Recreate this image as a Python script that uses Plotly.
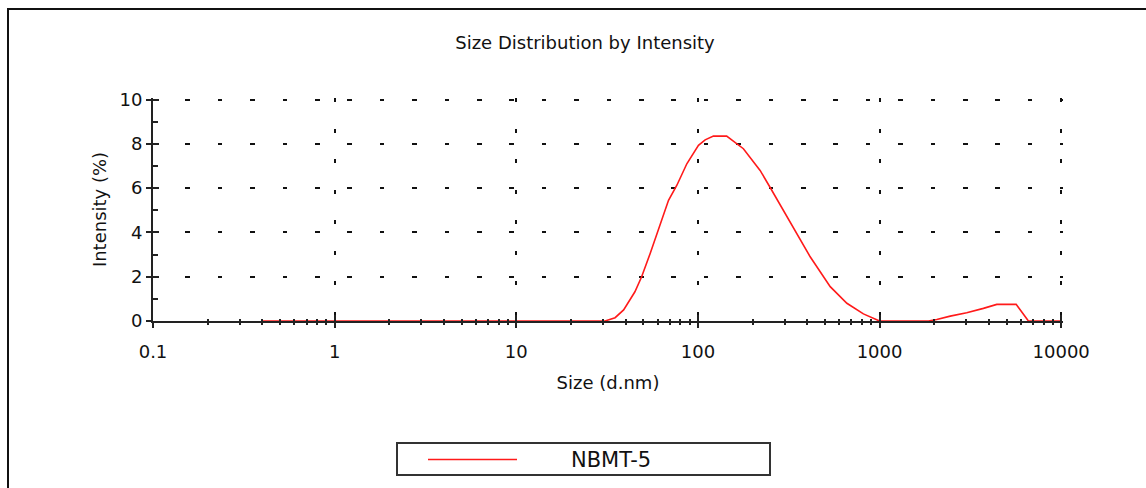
import plotly.graph_objects as go

# ---- data ----
size_nm = [0.4, 1, 10, 30.8, 35, 39, 45, 49, 54.6, 62, 68.9, 76.6, 86.9, 100.7, 109.6,
           121.7, 144, 178, 220, 249, 295, 350, 415, 535, 661, 815, 966, 1000,
           1860, 2065, 2450, 3020, 3730, 4420, 5650, 6600, 10000]
intensity = [0, 0, 0, 0, 0.15, 0.5, 1.32, 2.0, 3.05, 4.4, 5.45, 6.13, 7.1, 7.93, 8.18,
             8.35, 8.35, 7.78, 6.8, 6.05, 5.0, 3.95, 2.9, 1.55, 0.80, 0.32, 0.08, 0,
             0, 0.07, 0.22, 0.37, 0.57, 0.75, 0.75, 0, 0]
series_name = "NBMT-5"
x_tick_vals = [0.1, 1, 10, 100, 1000, 10000]
x_tick_text = ["0.1", "1", "10", "100", "1000", "10000"]
y_tick_vals = [0, 2, 4, 6, 8, 10]
y_tick_text = ["0", "2", "4", "6", "8", "10"]

FONT = "DejaVu Sans"
LINE_RED = "#ff1a1a"
minor_x = [m * 10 ** e for e in range(-1, 4) for m in range(2, 10)]
minor_y = [1, 3, 5, 7, 9]

# plot-area geometry (pixels)
L, T, R, B = 153, 98, 83, 167
W = 1146 - L - R
H = 488 - T - B


def px(xp):
    return (xp - L) / W


def py(yp):
    return (488 - B - yp) / H


fig = go.Figure()
fig.add_trace(go.Scatter(x=size_nm, y=intensity, mode="lines", name=series_name,
                         showlegend=False, line=dict(color=LINE_RED, width=1.6)))
# empty helper trace so the overlay axes carrying the inner half of the crossing ticks are drawn
fig.add_trace(go.Scatter(x=[], y=[], xaxis="x2", yaxis="y2", showlegend=False, hoverinfo="skip"))

xr = [-1, 4.01]
yr = [0, 10.07]
axis_font = dict(family=FONT, size=18, color="#111")

fig.update_layout(
    width=1146, height=488,
    margin=dict(l=L, r=R, t=T, b=B, autoexpand=False),
    paper_bgcolor="white", plot_bgcolor="white",
    title=dict(text="Size Distribution by Intensity", x=585 / 1146, xref="container", xanchor="center",
               y=1 - 43 / 488, yref="container", yanchor="middle",
               font=dict(family=FONT, size=18, color="#111")),
    xaxis=dict(type="log", range=xr, tickmode="array", tickvals=x_tick_vals, ticktext=x_tick_text,
               showline=True, linecolor="#222", linewidth=2, ticks="outside", ticklen=5, tickwidth=2,
               tickcolor="#222", ticklabelstandoff=8, tickfont=axis_font,
               showgrid=True, gridcolor="#111", gridwidth=1.8, griddash="4px,26.5px",
               zeroline=False, layer="below traces",
               minor=dict(tickmode="array", tickvals=minor_x, ticks="outside", ticklen=2,
                          tickwidth=2, tickcolor="#222", showgrid=False),
               title=dict(text="Size (d.nm)", font=axis_font, standoff=16)),
    yaxis=dict(range=yr, tickmode="array", tickvals=y_tick_vals, ticktext=y_tick_text,
               showline=True, linecolor="#222", linewidth=2, ticks="outside", ticklen=5, tickwidth=2,
               tickcolor="#222", ticklabelstandoff=0, tickfont=axis_font,
               showgrid=True, gridcolor="#111", gridwidth=1.8, griddash="4.5px,27.9px",
               zeroline=False, layer="below traces",
               minor=dict(tickmode="array", tickvals=minor_y, ticks="inside", ticklen=5,
                          tickwidth=2, tickcolor="#222", showgrid=False),
               title=dict(text="Intensity (%)", font=axis_font, standoff=8)),
    xaxis2=dict(type="log", range=xr, overlaying="x", anchor="y", side="bottom",
                tickmode="array", tickvals=x_tick_vals, ticks="inside", ticklen=6, tickwidth=2,
                tickcolor="#222", showticklabels=False, showgrid=False, zeroline=False,
                showline=False,
                minor=dict(tickmode="array", tickvals=minor_x, ticks="inside", ticklen=2,
                           tickwidth=2, tickcolor="#222", showgrid=False)),
    yaxis2=dict(range=yr, overlaying="y", anchor="x", side="left",
                tickmode="array", tickvals=y_tick_vals, ticks="inside", ticklen=6, tickwidth=2,
                tickcolor="#222", showticklabels=False, showgrid=False, zeroline=False,
                showline=False),
    showlegend=False,
)

# outer frame of the report panel
fig.add_shape(type="rect", xref="paper", yref="paper",
              x0=px(8), x1=px(1160), y0=py(500), y1=py(9),
              line=dict(color="#111", width=2), fillcolor="rgba(0,0,0,0)", layer="below")

# legend box with sample line and series name
fig.add_shape(type="rect", xref="paper", yref="paper",
              x0=px(397), x1=px(770), y0=py(475), y1=py(443),
              line=dict(color="#333", width=2), fillcolor="white", layer="below")
fig.add_shape(type="line", xref="paper", yref="paper",
              x0=px(428), x1=px(517), y0=py(459.5), y1=py(459.5),
              line=dict(color=LINE_RED, width=1.6))
fig.add_annotation(text=series_name, xref="paper", yref="paper", x=px(611), y=py(460),
                   xanchor="center", yanchor="middle", showarrow=False,
                   font=dict(family=FONT, size=21, color="#111"))

fig.write_html("out.html")
